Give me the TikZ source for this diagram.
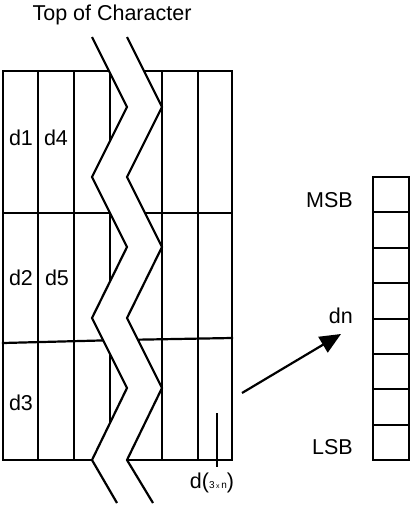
\documentclass[tikz,border=0pt]{standalone}
\usepackage{fontspec}
\setmainfont{Liberation Sans}
\usetikzlibrary{arrows.meta}
\begin{document}
\begin{tikzpicture}[x=1pt,y=-1pt,
  gridline/.style={line width=2.2pt,line cap=rect},
  zig/.style={line width=2.2pt,line join=miter},
  reg/.style={line width=2pt},
  lbl/.style={inner sep=0pt,font=\fontsize{21.5}{24}\selectfont},
  arr/.style={line width=2.2pt,-{Triangle[length=21pt,width=18pt]}}]
\useasboundingbox (0,0) rectangle (412,506);
% grid columns
\foreach \x in {3,38,74,110,162,198,232}
  \draw[gridline] (\x,71) -- (\x,460);
% grid rows
\draw[gridline] (3,71) -- (232,71);
\draw[gridline] (3,213) -- (232,213);
\draw[gridline] (3,343) -- (120,340);
\draw[gridline] (120,340) -- (232,338);
\draw[gridline] (3,460) -- (232,460);
% white band between zigzags
\fill[white] (92,37) -- (127,107) -- (92,177) -- (127,247) -- (92,318) -- (127,388) -- (92,460) -- (117,503)
  -- (153,503) -- (127,460) -- (162,388) -- (127,318) -- (162,247) -- (127,177) -- (162,107) -- (127,37) -- cycle;
\draw[zig] (92,37) -- (127,107) -- (92,177) -- (127,247) -- (92,318) -- (127,388) -- (92,460) -- (117,503);
\draw[zig] (127,37) -- (162,107) -- (127,177) -- (162,247) -- (127,318) -- (162,388) -- (127,460) -- (153,503);
% small tick in last column
\draw[line width=1.8pt] (217,413) -- (217,467);
% labels
\node[lbl] (top) at (112,15) {Top of Character};
\node[lbl] (d1) at (21,138) {d1};
\node[lbl] (d4) at (56,138) {d4};
\node[lbl] (d2) at (21,278) {d2};
\node[lbl] (d5) at (57,278) {d5};
\node[lbl] (d3) at (21,403) {d3};
\node[lbl] (dlast) at (212,483) {d({\fontsize{10}{12}\selectfont 3\,\raisebox{0.5pt}{\fontsize{7}{8}\selectfont x}\,n})};
% register
\foreach \i in {0,...,7}
  \draw[reg] (373,{177+\i*35.375}) rectangle (409,{177+(\i+1)*35.375});
\node[lbl,anchor=east] (msb) at (353,200) {MSB};
\node[lbl,anchor=east] (dn) at (353,316) {dn};
\node[lbl,anchor=east] (lsb) at (353,447) {LSB};
% arrow
\coordinate (as) at (242,393);
\coordinate (ae) at (341,334);
\draw[arr] (as) -- (ae);
\end{tikzpicture}
\end{document}
